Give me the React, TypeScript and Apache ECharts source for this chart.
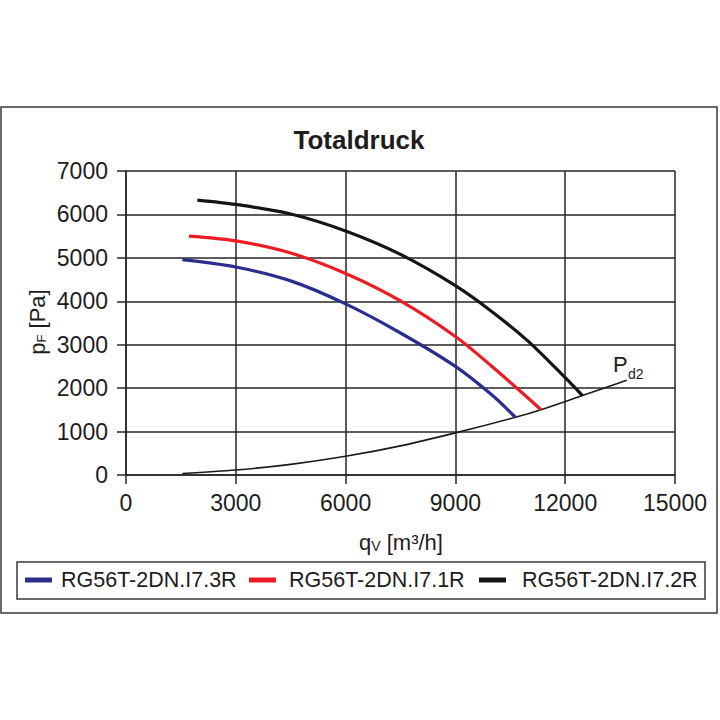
import React, { useEffect, useRef } from 'react';
import * as echarts from 'echarts';

const chartTitle = 'Totaldruck';
const seriesNames = ['RG56T-2DN.I7.3R', 'RG56T-2DN.I7.1R', 'RG56T-2DN.I7.2R'];
const seriesColors = ['#2b2e8c', '#ed1c24', '#151515'];

// RG56T-2DN.I7.3R (blue)
const blueFlow = [1540, 3000, 4500, 6000, 7500, 9000, 10000, 10640];
const bluePressure = [4960, 4790, 4470, 3940, 3270, 2500, 1840, 1330];
// RG56T-2DN.I7.1R (red)
const redFlow = [1720, 3000, 4500, 6000, 7500, 9000, 10000, 11000, 11340];
const redPressure = [5500, 5390, 5110, 4640, 4010, 3190, 2500, 1760, 1500];
// RG56T-2DN.I7.2R (black)
const blackFlow = [1950, 3000, 4500, 6000, 7500, 9000, 10000, 11000, 12000, 12470];
const blackPressure = [6330, 6230, 6010, 5620, 5080, 4360, 3760, 3070, 2240, 1830];
// Pd2 (dynamic pressure curve)
const pdFlow = [1540, 3000, 4500, 6000, 7500, 9000, 10640, 11340, 12470, 13680];
const pdPressure = [35, 115, 245, 430, 670, 970, 1330, 1505, 1830, 2180];

const xMin = 0, xMax = 15000, xStep = 3000;
const yMin = 0, yMax = 7000, yStep = 1000;

const FONT = "'Liberation Sans', Arial, sans-serif";
const TXT = '#1e1c1d';
const GRIDC = '#262626';

const zip = (a: number[], b: number[]) => a.map((v, i) => [v, b[i]]);

export default function App() {
  const ref = useRef<HTMLDivElement>(null);
  useEffect(() => {
    if (!ref.current) return;
    const chart = echarts.init(ref.current, undefined, { renderer: 'svg' });
    const curves = [
      zip(blueFlow, bluePressure),
      zip(redFlow, redPressure),
      zip(blackFlow, blackPressure),
    ];
    const legendLefts = [25, 249, 479];
    const legendPads = [4, 8, 11];
    const plain = (v: number) => String(v);
    const option: any = {
      animation: false,
      backgroundColor: '#ffffff',
      textStyle: { fontFamily: FONT },
      grid: { left: 126, right: 45, top: 171, bottom: 245, containLabel: false },
      xAxis: {
        type: 'value',
        min: xMin,
        max: xMax,
        interval: xStep,
        axisLine: { show: true, lineStyle: { color: GRIDC, width: 1.5 } },
        axisTick: { show: true, inside: false, length: 9, lineStyle: { color: GRIDC, width: 1.5 } },
        splitLine: { show: true, lineStyle: { color: GRIDC, width: 1.5 } },
        axisLabel: { color: TXT, fontSize: 23, fontFamily: FONT, margin: 16, formatter: plain },
      },
      yAxis: {
        type: 'value',
        min: yMin,
        max: yMax,
        interval: yStep,
        axisLine: { show: true, lineStyle: { color: GRIDC, width: 1.5 } },
        axisTick: { show: true, inside: false, length: 9, lineStyle: { color: GRIDC, width: 1.5 } },
        splitLine: { show: true, lineStyle: { color: GRIDC, width: 1.5 } },
        axisLabel: { color: TXT, fontSize: 23, fontFamily: FONT, margin: 18, formatter: plain },
      },
      legend: seriesNames.map((n, i) => ({
        data: [n],
        left: legendLefts[i],
        top: 569,
        padding: 0,
        icon: 'rect',
        itemWidth: 27,
        itemHeight: 5,
        selectedMode: false,
        textStyle: {
          color: TXT,
          fontSize: 21.5,
          fontFamily: FONT,
          padding: [0, 0, 0, legendPads[i]],
        },
      })),
      series: [
        ...curves.map((d, i) => ({
          name: seriesNames[i],
          type: 'line',
          data: d,
          smooth: 0.3,
          showSymbol: false,
          symbol: 'none',
          color: seriesColors[i],
          lineStyle: { color: seriesColors[i], width: 3.2 },
          z: 5,
        })),
        {
          name: 'Pd2',
          type: 'line',
          data: zip(pdFlow, pdPressure),
          smooth: 0.3,
          showSymbol: false,
          symbol: 'none',
          lineStyle: { color: '#1a1a1a', width: 1.6 },
          z: 4,
        },
      ],
      graphic: [
        {
          type: 'rect',
          shape: { x: 1, y: 107, width: 716, height: 506 },
          style: { fill: 'none', stroke: '#3a3a3a', lineWidth: 1.5 },
          silent: true,
        },
        {
          type: 'rect',
          shape: { x: 17, y: 562, width: 688, height: 37 },
          style: { fill: 'none', stroke: '#3a3a3a', lineWidth: 1.5 },
          silent: true,
        },
        {
          type: 'text',
          x: 359,
          y: 140,
          style: {
            text: chartTitle,
            fill: TXT,
            font: `bold 26px ${FONT}`,
            align: 'center',
            verticalAlign: 'middle',
          },
        },
        {
          type: 'text',
          x: 401,
          y: 542,
          style: {
            text: '{m|q}{s|V}{m| [m³/h]}',
            align: 'center',
            verticalAlign: 'middle',
            fill: TXT,
            rich: {
              m: { fontSize: 22, lineHeight: 22, fontFamily: FONT, fill: TXT },
              s: { fontSize: 14, lineHeight: 4, verticalAlign: 'bottom', fontFamily: FONT, fill: TXT },
            },
          },
        },
        {
          type: 'text',
          x: 37,
          y: 322,
          rotation: Math.PI / 2,
          style: {
            text: '{m|p}{s|F}{m| [Pa]}',
            align: 'center',
            verticalAlign: 'middle',
            fill: TXT,
            rich: {
              m: { fontSize: 22, lineHeight: 22, fontFamily: FONT, fill: TXT },
              s: { fontSize: 13, lineHeight: 4, verticalAlign: 'bottom', fontFamily: FONT, fill: TXT },
            },
          },
        },
        {
          type: 'text',
          x: 613,
          y: 364,
          style: {
            text: 'P',
            fill: TXT,
            font: `22px ${FONT}`,
            align: 'left',
            verticalAlign: 'middle',
          },
        },
        {
          type: 'text',
          x: 628,
          y: 374,
          style: {
            text: 'd2',
            fill: TXT,
            font: `14px ${FONT}`,
            align: 'left',
            verticalAlign: 'middle',
          },
        },
      ],
    };
    chart.setOption(option);
    return () => chart.dispose();
  }, []);
  return (
    <div
      ref={ref}
      style={{ position: 'fixed', left: 0, top: 0, width: 720, height: 720, background: '#fff' }}
    />
  );
}
